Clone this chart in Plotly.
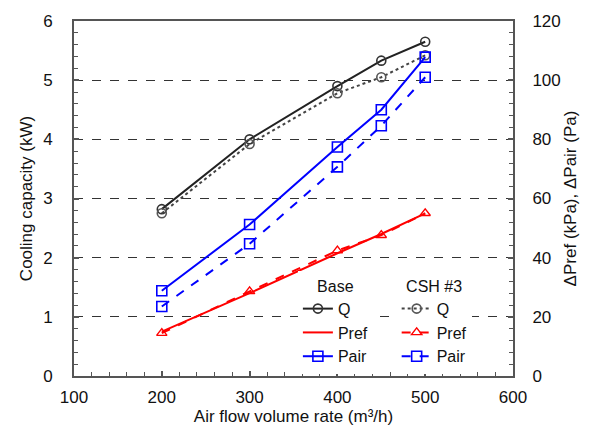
import plotly.graph_objects as go

# Air flow volume rate (m3/h)
flow = [200, 300, 400, 450, 500]

# Cooling capacity (kW)
q_base = [2.82, 4.00, 4.90, 5.33, 5.65]
q_csh = [2.75, 3.92, 4.78, 5.05, 5.42]

# Refrigerant pressure drop (kPa)
pref_base = [15.0, 28.0, 41.5, 48.0, 55.0]
pref_csh = [14.5, 28.6, 42.4, 47.6, 55.0]

# Air pressure drop (Pa)
pair_base = [28.8, 51.2, 77.4, 90.0, 107.8]
pair_csh = [23.5, 44.7, 70.7, 84.6, 101.0]

FONT = "Liberation Sans, Arial, sans-serif"
AXIS_COL = "#555555"
TXT_COL = "#111111"

fig = go.Figure()

# Base case (legend 1)
fig.add_trace(go.Scatter(
    x=flow, y=q_base, name="Q", legend="legend", mode="lines+markers",
    line=dict(color="#222222", width=2),
    marker=dict(symbol="circle-open", size=9, color="#333333", line=dict(width=1.6)),
))
fig.add_trace(go.Scatter(
    x=flow, y=pref_base, name="Pref", legend="legend", yaxis="y2", mode="lines",
    line=dict(color="#ff0000", width=2),
))
fig.add_trace(go.Scatter(
    x=flow, y=pair_base, name="Pair", legend="legend", yaxis="y2", mode="lines+markers",
    line=dict(color="#0000ff", width=2),
    marker=dict(symbol="square-open", size=10, color="#0000ff", line=dict(width=1.6)),
))

# CSH #3 case (legend 2)
fig.add_trace(go.Scatter(
    x=flow, y=q_csh, name="Q", legend="legend2", mode="lines+markers",
    line=dict(color="#444444", width=2, dash="dot"),
    marker=dict(symbol="circle-open", size=9, color="#555555", line=dict(width=1.6)),
))
fig.add_trace(go.Scatter(
    x=flow, y=pref_csh, name="Pref", legend="legend2", yaxis="y2", mode="lines+markers",
    line=dict(color="#ff0000", width=2, dash="dash"),
    marker=dict(symbol="triangle-up-open", size=9, color="#ff0000", line=dict(width=1.4)),
))
fig.add_trace(go.Scatter(
    x=flow, y=pair_csh, name="Pair", legend="legend2", yaxis="y2", mode="lines+markers",
    line=dict(color="#0000ff", width=2, dash="dash"),
    marker=dict(symbol="square-open", size=10, color="#0000ff", line=dict(width=1.6)),
))

tick_font = dict(family=FONT, size=17, color=TXT_COL)
title_font = dict(family=FONT, size=17, color=TXT_COL)
legend_font = dict(family=FONT, size=16, color=TXT_COL)

fig.update_layout(
    width=589, height=439,
    margin=dict(l=74, r=73, t=18, b=63),
    paper_bgcolor="white", plot_bgcolor="white",
    font=dict(family=FONT, size=17, color=TXT_COL),
    xaxis=dict(
        range=[100, 600], dtick=100, tick0=100,
        showgrid=False, zeroline=False,
        showline=True, linecolor=AXIS_COL, linewidth=2, mirror=True,
        ticks="inside", ticklen=5, tickcolor=AXIS_COL, tickwidth=1.5,
        minor=dict(dtick=20, ticks="inside", ticklen=4, tickcolor=AXIS_COL, tickwidth=1.2),
        tickfont=tick_font, ticklabelstandoff=5,
        title=dict(text="Air flow volume rate (m\u00b3/h)", font=title_font, standoff=2),
    ),
    yaxis=dict(
        range=[0, 6], dtick=1,
        showgrid=True, gridcolor="#333333", griddash="dash", gridwidth=1.4,
        zeroline=False,
        showline=True, linecolor=AXIS_COL, linewidth=2, mirror=True,
        ticks="inside", ticklen=5, tickcolor=AXIS_COL, tickwidth=1.5,
        minor=dict(dtick=0.2, ticks="inside", ticklen=4, tickcolor=AXIS_COL, tickwidth=1.2),
        tickfont=tick_font, ticklabelstandoff=16,
        title=dict(text="Cooling capacity (kW)", font=title_font, standoff=6),
    ),
    yaxis2=dict(
        range=[0, 120], dtick=20, overlaying="y", side="right",
        showgrid=False, zeroline=False,
        showline=True, linecolor=AXIS_COL, linewidth=2,
        ticks="inside", ticklen=5, tickcolor=AXIS_COL, tickwidth=1.5,
        minor=dict(dtick=4, ticks="inside", ticklen=4, tickcolor=AXIS_COL, tickwidth=1.2),
        tickfont=tick_font, ticklabelstandoff=14,
        title=dict(text="\u0394Pref (kPa), \u0394Pair (Pa)", font=title_font, standoff=4),
    ),
    legend=dict(
        x=0.51, y=0.296, xanchor="left", yanchor="top",
        bgcolor="white", borderwidth=0,
        font=legend_font,
        title=dict(text="Base", side="top center", font=legend_font),
        tracegroupgap=0, itemwidth=30,
    ),
    legend2=dict(
        x=0.735, y=0.296, xanchor="left", yanchor="top",
        bgcolor="white", borderwidth=0,
        font=legend_font,
        title=dict(text="CSH #3", side="top center", font=legend_font),
        tracegroupgap=0, itemwidth=30,
    ),
)

fig.write_html("out.html")
